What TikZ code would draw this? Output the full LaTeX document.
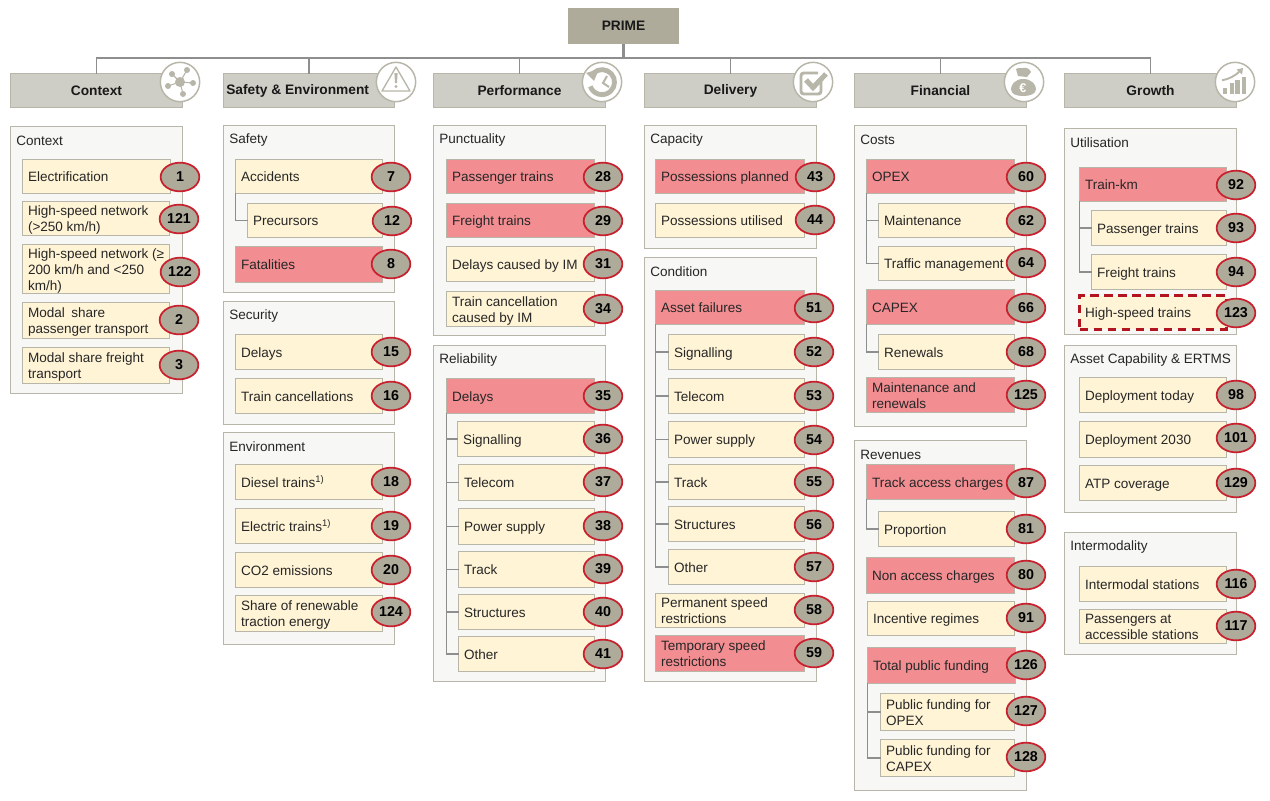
\documentclass[tikz,border=0pt]{standalone}
\usepackage{fontspec}
\setmainfont{Liberation Sans}
\definecolor{primefill}{HTML}{AEAB9B}
\definecolor{headfill}{HTML}{CECEC6}
\definecolor{edge}{HTML}{B8B6A8}
\definecolor{panelfill}{HTML}{F7F7F5}
\definecolor{yel}{HTML}{FFF4D6}
\definecolor{redbox}{HTML}{F28E92}
\definecolor{badgered}{HTML}{C8202D}
\definecolor{link}{HTML}{8E8E8E}
\definecolor{icon}{HTML}{B8B6A8}
\definecolor{dashred}{HTML}{B2151F}
\tikzset{
  x=0.75pt,y=-0.75pt,
  boxbase/.style={draw=edge,line width=1.05pt,inner sep=0pt,outer sep=0pt,text=black!85},
  yelbox/.style={boxbase,fill=yel},
  redfill/.style={boxbase,fill=redbox},
  dashbox/.style={boxbase,fill=yel,draw=dashred,line width=1.9pt,dash pattern=on 6.5pt off 4pt},
  badge/.style={ellipse,draw=badgered,line width=1.3pt,fill=primefill,inner sep=0pt,minimum width=29pt,minimum height=21.5pt,font=\fontsize{10.7}{12}\selectfont\bfseries,text=black},
  panelbox/.style={draw=edge,line width=1.05pt,fill=panelfill,inner sep=0pt,outer sep=0pt},
  paneltitle/.style={anchor=west,inner sep=0pt,font=\fontsize{10.15}{12}\selectfont,text=black!85},
  headbox/.style={draw=edge,line width=1.05pt,fill=headfill,inner sep=0pt,outer sep=0pt,font=\fontsize{10.3}{12}\selectfont\bfseries,text=black!90},
  iconring/.style={circle,draw=edge,line width=1.1pt,fill=white,minimum size=29.5pt,inner sep=0pt},
  wire/.style={draw=link,line width=1.1pt},
  sub/.style={draw=link,line width=1.1pt,line join=miter},
}
\usetikzlibrary{shapes.geometric}
% #1 number, #2 style, #3-#6 x1 y1 x2 y2, #7 text, #8 #9 badge centre
\newcommand{\leafbox}[9]{%
  \pgfmathsetlengthmacro{\lw}{(#5-#3-1.3)*0.75pt}%
  \pgfmathsetlengthmacro{\lh}{(#6-#4-1.3)*0.75pt}%
  \pgfmathsetlengthmacro{\lt}{(#5-#3-12)*0.75pt}%
  \node[#2,minimum width=\lw,minimum height=\lh,font=\fontsize{10.15}{12}\selectfont] (l#1) at ({(#3+#5)/2},{(#4+#6)/2})
    {\hbox to \lt{\raisebox{-1.5pt}[\height][\depth]{\begin{tabular}[c]{@{}l@{}}#7\end{tabular}}\hss}};
  \node[badge] (b#1) at (#8,#9) {#1};
}
\newcommand{\panelbox}[6]{%
  \pgfmathsetlengthmacro{\lw}{(#4-#2-1.3)*0.75pt}%
  \pgfmathsetlengthmacro{\lh}{(#5-#3-1.3)*0.75pt}%
  \node[panelbox,minimum width=\lw,minimum height=\lh] (p#1) at ({(#2+#4)/2},{(#3+#5)/2}) {};
  \node[paneltitle] (t#1) at ({#2+6},{#3+14.8}) {#6};
}
\newcommand{\headbox}[6]{%
  \pgfmathsetlengthmacro{\lw}{(#4-#2-1.3)*0.75pt}%
  \pgfmathsetlengthmacro{\lh}{(#5-#3-1.3)*0.75pt}%
  \node[headbox,minimum width=\lw,minimum height=\lh] (#1) at ({(#2+#4)/2},{(#3+#5)/2}) {#6};
}
\begin{document}
\begin{tikzpicture}
\useasboundingbox (0,0) rectangle (1270,800);
% top
\node[draw=none,fill=primefill,minimum width=83.25pt,minimum height=27pt,inner sep=0pt,outer sep=0pt,font=\fontsize{10.3}{12}\selectfont\bfseries,text=black!90] (prime) at (623.5,26) {PRIME};
\coordinate (bus) at (623.5,58);
\headbox{hContext}{10}{73}{183}{108}{Context}
\headbox{hSafety}{223}{73}{395}{108}{Safety \& Environment\kern 17pt}
\headbox{hPerf}{433}{73}{606}{108}{Performance}
\headbox{hDelivery}{644}{73}{817}{108}{Delivery}
\headbox{hFin}{854}{73}{1027}{108}{Financial}
\headbox{hGrowth}{1064}{73}{1237}{108}{Growth}
\draw[draw=link,line width=2pt] (prime.south) -- (bus);
\draw[wire] (hContext.north) |- (bus) -| (hGrowth.north);
\foreach \h in {hSafety,hPerf,hDelivery,hFin}{\draw[wire] (\h.north) -- (\h.north |- bus);}
% icons
\node[iconring] (iContext) at (180,82) {};
\node[iconring] (iSafety) at (396,82) {};
\node[iconring] (iPerf) at (602,82) {};
\node[iconring] (iDelivery) at (813,82) {};
\node[iconring] (iFin) at (1024,82) {};
\node[iconring] (iGrowth) at (1235,82) {};
\begin{scope}[shift={(iContext.center)}]
  \foreach \dx/\dy in {-8/-8,7/-12,13/1,3/12,-12/4}{\draw[icon,line width=0.8pt] (0,0) -- (\dx,\dy); \fill[icon] (\dx,\dy) circle (3);}
  \fill[icon] (0,0) circle (5);
\end{scope}
\begin{scope}[shift={(iSafety.center)}]
  \draw[icon,line width=1pt,line join=round] (0,-15) -- (14,9) -- (-14,9) -- cycle;
  \fill[icon] (-1.6,-9) -- (1.6,-9) -- (1,1) -- (-1,1) -- cycle;
  \fill[icon] (0,4.5) circle (1.7);
\end{scope}
\begin{scope}[shift={(iPerf.center)}]
  \draw[icon,line width=3.6pt] (-8.5,-9) arc (-133:160:12.5);
  \fill[icon] (-16,-9) -- (-3,-13) -- (-8,-1) -- cycle;
  \draw[icon,line width=1.5pt] (5,-6) -- (1,1) -- (7,5);
\end{scope}
\begin{scope}[shift={(iDelivery.center)}]
  \draw[icon,line width=2.2pt,rounded corners=2] (8,-2) -- (8,12) -- (-12,12) -- (-12,-9) -- (5,-9);
  \draw[icon,line width=3.8pt] (-7,-2) -- (0,5.5) -- (13,-8);
\end{scope}
\begin{scope}[shift={(iFin.center)}]
  \fill[icon] (-1,-3) .. controls (8,-3) and (12,3) .. (12,7) .. controls (12,12) and (6,14) .. (-1,14) .. controls (-8,14) and (-13,12) .. (-13,7) .. controls (-13,3) and (-9,-3) .. (-1,-3) -- cycle;
  \fill[icon] (-6,-6) -- (-8,-13) .. controls (-5,-15) and (-2,-13) .. (-1,-14) .. controls (2,-15) and (6,-13) .. (7,-10) -- (3,-5) -- cycle;
  \node[inner sep=0pt,text=white,font=\fontsize{9.5}{10}\selectfont\bfseries] (euro) at (-1,6) {€};
\end{scope}
\begin{scope}[shift={(iGrowth.center)}]
  \fill[icon] (-12,5.7) rectangle (-8,11.7);
  \fill[icon] (-5.3,1) rectangle (-1.3,11.7);
  \fill[icon] (0.3,-2.3) rectangle (4.7,11.7);
  \fill[icon] (7,-5) rectangle (11.3,11.7);
  \draw[icon,line width=1.4pt] (-13,-1.7) .. controls (-6,-3) and (0,-6) .. (5,-11);
  \fill[icon] (8,-14) -- (7,-7.5) -- (1.5,-12.5) -- cycle;
\end{scope}
% Context
\panelbox{Context}{10}{126}{183}{394}{Context}
\leafbox{1}{yelbox}{22}{159}{171}{194}{Electrification}{180}{177}
\leafbox{121}{yelbox}{22}{201}{170}{236}{High-speed network\\(>250 km/h)}{179}{219}
\leafbox{122}{yelbox}{22}{244}{170}{294}{High-speed network (≥\\200 km/h and <250\\km/h)}{180}{272}
\leafbox{2}{yelbox}{22}{302}{170}{339}{Modal\kern2pt\ share\\passenger transport}{179}{320}
\leafbox{3}{yelbox}{22}{347}{170}{384}{Modal share freight\\transport}{179}{365}
% Safety
\panelbox{Safety}{223}{125}{395}{293}{Safety}
\leafbox{7}{yelbox}{235}{159}{383}{194}{Accidents}{391}{177}
\leafbox{12}{yelbox}{247}{203}{383}{238}{Precursors}{392}{221}
\leafbox{8}{redfill}{235}{246}{383}{283}{Fatalities}{391}{264}
\panelbox{Security}{223}{301}{395}{425}{Security}
\leafbox{15}{yelbox}{235}{334}{383}{370}{Delays}{391}{352}
\leafbox{16}{yelbox}{235}{378}{383}{414}{Train cancellations}{391}{396}
\panelbox{Env}{223}{432}{395}{645}{Environment}
\leafbox{18}{yelbox}{235}{464}{383}{500}{Diesel trains\textsuperscript{1)}}{391}{482}
\leafbox{19}{yelbox}{235}{508}{383}{544}{Electric trains\textsuperscript{1)}}{391}{526}
\leafbox{20}{yelbox}{235}{552}{383}{588}{CO2 emissions}{391}{570}
\leafbox{124}{yelbox}{235}{595}{383}{632}{Share of renewable\\traction energy}{391}{612}
\draw[sub] (l7.south west) |- (l12.west);
% Performance
\panelbox{Punct}{433}{125}{606}{336}{Punctuality}
\leafbox{28}{redfill}{446}{159}{595}{194}{Passenger trains}{603}{177}
\leafbox{29}{redfill}{446}{203}{595}{238}{Freight trains}{603}{221}
\leafbox{31}{yelbox}{446}{246}{595}{282}{Delays caused by IM}{603}{264}
\leafbox{34}{yelbox}{446}{291}{595}{327}{Train cancellation\\caused by IM}{603}{309}
\panelbox{Rel}{433}{345}{606}{682}{Reliability}
\leafbox{35}{redfill}{446}{378}{595}{414}{Delays}{603}{396}
\leafbox{36}{yelbox}{457}{421}{595}{457}{Signalling}{603}{439}
\leafbox{37}{yelbox}{458}{464}{595}{501}{Telecom}{603}{482}
\leafbox{38}{yelbox}{458}{508}{595}{545}{Power supply}{603}{526}
\leafbox{39}{yelbox}{458}{551}{595}{588}{Track}{603}{569}
\leafbox{40}{yelbox}{458}{594}{595}{630}{Structures}{603}{612}
\leafbox{41}{yelbox}{458}{636}{595}{672}{Other}{603}{654}
\foreach \c in {36,37,38,39,40,41}{\draw[sub] (l35.south west) |- (l\c.west);}
% Delivery
\panelbox{Cap}{644}{125}{817}{249}{Capacity}
\leafbox{43}{redfill}{655}{159}{805}{194}{Possessions planned}{815}{177}
\leafbox{44}{yelbox}{655}{203}{805}{238}{Possessions utilised}{815}{220}
\panelbox{Cond}{644}{257}{817}{682}{Condition}
\leafbox{51}{redfill}{655}{290}{805}{325}{Asset failures}{814}{308}
\leafbox{52}{yelbox}{668}{334}{805}{370}{Signalling}{814}{352}
\leafbox{53}{yelbox}{668}{378}{805}{414}{Telecom}{814}{396}
\leafbox{54}{yelbox}{668}{421}{805}{458}{Power supply}{814}{440}
\leafbox{55}{yelbox}{668}{464}{805}{500}{Track}{814}{482}
\leafbox{56}{yelbox}{668}{506}{805}{542}{Structures}{814}{525}
\leafbox{57}{yelbox}{668}{549}{805}{585}{Other}{814}{567}
\leafbox{58}{yelbox}{655}{593}{805}{628}{Permanent speed\\restrictions}{814}{610}
\leafbox{59}{redfill}{655}{635}{805}{672}{Temporary speed\\restrictions}{814}{653}
\foreach \c in {52,53,54,55,56,57}{\draw[sub] (l51.south west) |- (l\c.west);}
% Financial
\panelbox{Costs}{854}{125}{1027}{427}{Costs}
\leafbox{60}{redfill}{866}{159}{1015}{194}{OPEX}{1026}{177}
\leafbox{62}{yelbox}{878}{203}{1015}{238}{Maintenance}{1026}{221}
\leafbox{64}{yelbox}{878}{246}{1015}{281}{Traffic management}{1026}{263}
\leafbox{66}{redfill}{866}{289}{1015}{325}{CAPEX}{1026}{308}
\leafbox{68}{yelbox}{878}{334}{1015}{370}{Renewals}{1026}{352}
\leafbox{125}{redfill}{866}{377}{1015}{413}{Maintenance and\\renewals}{1026}{395}
\draw[sub] (l60.south west) |- (l62.west);
\draw[sub] (l60.south west) |- (l64.west);
\draw[sub] (l66.south west) |- (l68.west);
\panelbox{Rev}{854}{440}{1027}{791}{Revenues}
\leafbox{87}{redfill}{866}{464}{1015}{500}{Track access charges}{1026}{483}
\leafbox{81}{yelbox}{878}{511}{1015}{547}{Proportion}{1026}{529}
\leafbox{80}{redfill}{866}{557}{1015}{594}{Non access charges}{1026}{575}
\leafbox{91}{yelbox}{867}{601}{1015}{636}{Incentive regimes}{1026}{618}
\leafbox{126}{redfill}{867}{647}{1016}{684}{Total public funding}{1026}{665}
\leafbox{127}{yelbox}{880}{693}{1015}{731}{Public funding for\\OPEX}{1026}{711}
\leafbox{128}{yelbox}{880}{739}{1015}{777}{Public funding for\\CAPEX}{1026}{757}
\draw[sub] (l87.south west) |- (l81.west);
\draw[sub] (l126.south west) |- (l127.west);
\draw[sub] (l126.south west) |- (l128.west);
% Growth
\panelbox{Util}{1064}{128}{1237}{335}{Utilisation}
\leafbox{92}{redfill}{1079}{167}{1227}{202}{Train-km}{1236}{185}
\leafbox{93}{yelbox}{1091}{210}{1227}{246}{Passenger trains}{1236}{228}
\leafbox{94}{yelbox}{1091}{254}{1227}{290}{Freight trains}{1236}{272}
\leafbox{123}{dashbox}{1079}{295}{1227}{330}{High-speed trains}{1236}{313}
\draw[sub] (l92.south west) |- (l93.west);
\draw[sub] (l92.south west) |- (l94.west);
\panelbox{Asset}{1064}{345}{1237}{513}{Asset Capability \& ERTMS}
\leafbox{98}{yelbox}{1079}{377}{1227}{413}{Deployment today}{1236}{395}
\leafbox{101}{yelbox}{1079}{421}{1227}{458}{Deployment 2030}{1236}{438}
\leafbox{129}{yelbox}{1079}{465}{1227}{501}{ATP coverage}{1236}{483}
\panelbox{Inter}{1064}{532}{1237}{655}{Intermodality}
\leafbox{116}{yelbox}{1079}{566}{1227}{602}{Intermodal stations}{1236}{584}
\leafbox{117}{yelbox}{1079}{609}{1227}{644}{Passengers at\\accessible stations}{1236}{626}
\end{tikzpicture}
\end{document}
